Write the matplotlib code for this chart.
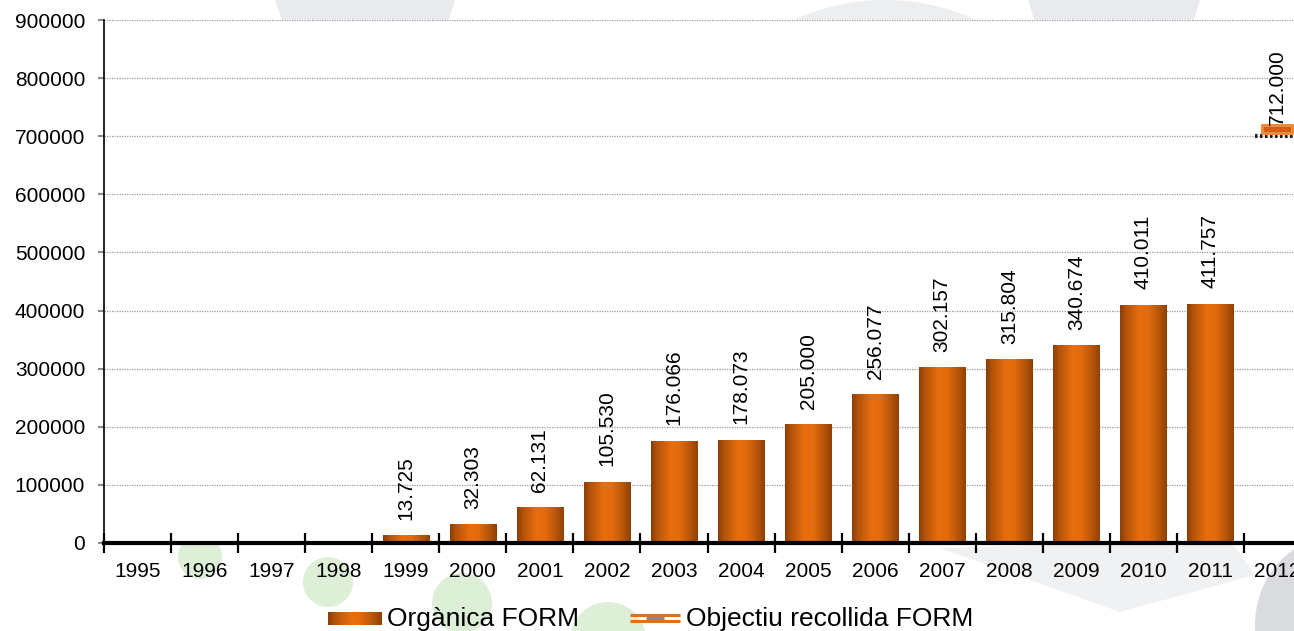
import numpy as np
import matplotlib
matplotlib.use("Agg")
import matplotlib.pyplot as plt
from matplotlib.colors import LinearSegmentedColormap
from matplotlib.path import Path
from matplotlib.patches import Circle, Polygon, Ellipse

plt.rcParams['font.family'] = ['Liberation Sans', 'DejaVu Sans']

# ---------------- data ----------------
years = ['1995', '1996', '1997', '1998', '1999', '2000', '2001', '2002', '2003',
         '2004', '2005', '2006', '2007', '2008', '2009', '2010', '2011', '2012']
organica_form = [0, 0, 0, 0, 13725, 32303, 62131, 105530, 176066, 178073, 205000,
                 256077, 302157, 315804, 340674, 410011, 411757, np.nan]
objectiu_form = [np.nan] * 17 + [712000]
series_names = ['Orgànica FORM', 'Objectiu recollida FORM']
y_ticks = [0, 100000, 200000, 300000, 400000, 500000, 600000, 700000, 800000, 900000]


def fmt(v):
    return f"{v:,.0f}".replace(',', '.')


W, H = 1294, 631
fig = plt.figure(figsize=(W / 100, H / 100), dpi=100)
fig.patch.set_facecolor('white')

# ---------------- faint background watermark ----------------
bg = fig.add_axes([0, 0, 1, 1], zorder=0)
bg.set_xlim(0, W)
bg.set_ylim(H, 0)
bg.axis('off')
grey = '#e8eaed'
bg.add_patch(Polygon([(275, 0), (455, 0), (448, 22), (283, 22)], closed=True, color=grey, lw=0))
bg.add_patch(Circle((885, 219), 219, color='#eceef0', lw=0))
bg.add_patch(Polygon([(1028, 0), (1200, 0), (1193, 22), (1035, 22)], closed=True, color=grey, lw=0))
bg.add_patch(Ellipse((1340, 625), 170, 180, color='#d9dbdf', lw=0))
bg.add_patch(Polygon([(940, 548), (1230, 540), (1255, 575), (1120, 612)], closed=True,
                     color='#f0f1f2', lw=0))
green = '#ddefd6'
bg.add_patch(Circle((200, 557), 22, color=green, lw=0))
bg.add_patch(Circle((328, 582), 25, color=green, lw=0))
bg.add_patch(Circle((462, 603), 30, color=green, lw=0))
bg.add_patch(Circle((608, 640), 38, color=green, lw=0))

# ---------------- main axes ----------------
left_px, right_px, top_px, bot_px = 104, 1311, 20, 543
ax = fig.add_axes([left_px / W, 1 - bot_px / H, (right_px - left_px) / W, (bot_px - top_px) / H],
                  zorder=1)
ax.set_facecolor('white')

n = len(years)
x = np.arange(n)

cmap = LinearSegmentedColormap.from_list('bar', [
    (0.0, '#8c3d06'), (0.12, '#b0520a'), (0.42, '#e86e0d'), (0.6, '#e26b0d'),
    (0.85, '#b2540a'), (1.0, '#8e4006')])
grad = np.linspace(0, 1, 256).reshape(1, -1)

bar_w = 0.69
bars = ax.bar(x, np.nan_to_num(organica_form), width=bar_w, color='none', edgecolor='none',
              zorder=3)
for b, v in zip(bars, organica_form):
    if not np.isfinite(v) or v <= 0:
        continue
    x0, y0 = b.get_x(), b.get_y()
    im = ax.imshow(grad, cmap=cmap, aspect='auto', extent=(x0, x0 + b.get_width(), y0, y0 + v),
                   zorder=3, interpolation='bilinear')
    im.set_clip_path(b)
ax.set_xlim(-0.5, n - 0.5)
ax.set_ylim(0, 900000)

for xi, v in zip(x, organica_form):
    if np.isfinite(v) and v > 0:
        ax.annotate(fmt(v), (xi, v), xytext=(0, 11), textcoords='offset points',
                    rotation=90, ha='center', va='bottom', fontsize=15, color='black', zorder=5)

# target series
for xi, v in zip(x, objectiu_form):
    if np.isfinite(v):
        ax.plot([xi - 0.33, xi + 0.5], [700000, 700000], color='#222222', lw=3,
                ls=(0, (0.6, 0.6)), zorder=3, solid_capstyle='butt', clip_on=False)
        ax.annotate(fmt(v), (xi, v), xytext=(0, 3), textcoords='offset points',
                    rotation=90, ha='center', va='bottom', fontsize=15, color='black', zorder=5)
rect_marker = Path([(-1, -0.26), (1, -0.26), (1, 0.26), (-1, 0.26), (-1, -0.26)],
                   [Path.MOVETO, Path.LINETO, Path.LINETO, Path.LINETO, Path.CLOSEPOLY])
ax.plot(x, objectiu_form, ls='none', marker=rect_marker, markersize=22,
        markerfacecolor='#d2600e', markeredgecolor='#ef8a3a', markeredgewidth=2.2, zorder=4)

# grid
ax.set_yticks(y_ticks)
ax.set_yticklabels([str(t) for t in y_ticks], fontsize=15)
ax.yaxis.grid(True, color='#9a9a9a', lw=0.9, ls=(0, (1, 1)), zorder=1)
ax.set_axisbelow(True)

ax.set_xticks(np.arange(-0.5, n, 1.0))
ax.set_xticklabels([])
ax.set_xticks(x, minor=True)
ax.set_xticklabels(years, minor=True, fontsize=15)
ax.tick_params(axis='x', which='major', direction='inout', length=14, width=1.6, color='black')
ax.tick_params(axis='x', which='minor', length=0, pad=14)
ax.tick_params(axis='y', direction='out', length=4.5, width=1.5, color='#8c8c8c', pad=9)

for s in ['top', 'right']:
    ax.spines[s].set_visible(False)
ax.spines['left'].set_linewidth(1.2)
ax.spines['left'].set_color('black')
ax.spines['bottom'].set_linewidth(3)
ax.spines['bottom'].set_color('black')
ax.spines['bottom'].set_zorder(6)

# ---------------- legend ----------------
sw = fig.add_axes([328 / W, 1 - 625 / H, 53 / W, 13 / H], zorder=2)
sw.imshow(grad, cmap=cmap, aspect='auto', interpolation='bilinear')
sw.axis('off')

lg = fig.add_axes([0, 0, 1, 1], zorder=2)
lg.set_xlim(0, W)
lg.set_ylim(H, 0)
lg.axis('off')
lg.patch.set_alpha(0)
lg.text(387, 619, series_names[0], fontsize=19, va='center', ha='left')
lg.plot([630, 680], [615, 615], color='#e0701a', lw=2.2, solid_capstyle='butt')
lg.plot([630, 680], [621, 621], color='#e0701a', lw=2.2, solid_capstyle='butt')
lg.plot([646, 664], [618, 618], color='#7a8aa8', lw=2.2, solid_capstyle='butt')
lg.text(686, 619, series_names[1], fontsize=19, va='center', ha='left')

fig.savefig('out.png', dpi=100)
